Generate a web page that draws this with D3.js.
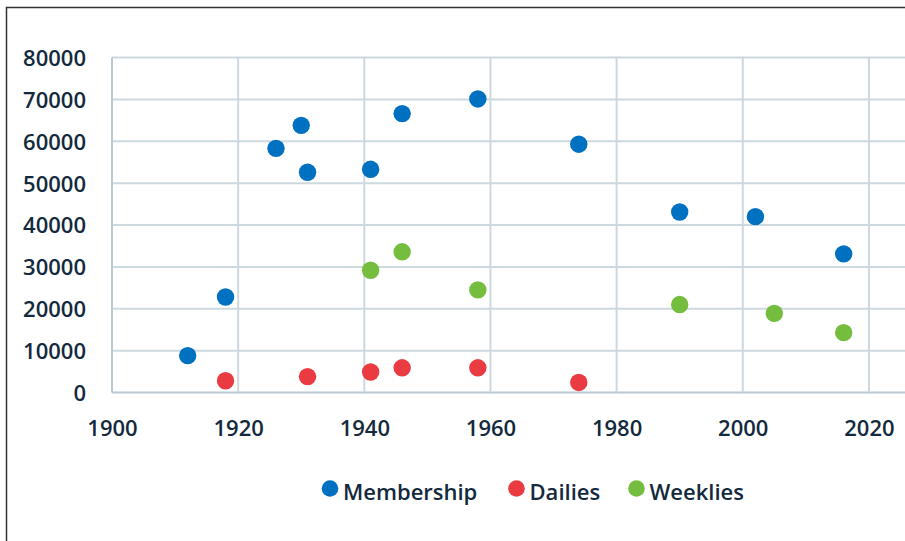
<!DOCTYPE html>
<html>
<head>
<meta charset="utf-8">
<style>
  body { margin: 0; background: #fff; }
  svg { display: block; }
  text { font-family: "Open Sans", sans-serif; fill: #13293d; font-weight: 600; }
</style>
<script src="https://cdnjs.cloudflare.com/ajax/libs/d3/7.8.5/d3.min.js"></script>
</head>
<body>
<svg id="chart" width="905" height="541"></svg>
<script>
// series: [year, count]
var membership = [[1912, 8800], [1918, 22800], [1926, 58300], [1930, 63800], [1931, 52600],
                  [1941, 53300], [1946, 66600], [1958, 70100], [1974, 59300], [1990, 43100],
                  [2002, 42000], [2016, 33100]];
var dailies = [[1918, 2800], [1931, 3800], [1941, 4900], [1946, 5900], [1958, 5900], [1974, 2400]];
var weeklies = [[1941, 29200], [1946, 33600], [1958, 24500], [1990, 21000], [2005, 18900], [2016, 14300]];

var seriesNames = ["Membership", "Dailies", "Weeklies"];
var seriesColors = ["#0070c0", "#ea3a42", "#75bd3e"];
var xTicks = [1900, 1920, 1940, 1960, 1980, 2000, 2020, 2030];
var yTicks = [0, 10000, 20000, 30000, 40000, 50000, 60000, 70000, 80000];

var svg = d3.select("#chart");

// outer frame (right side runs off the image)
svg.append("path")
  .attr("d", "M6.5,541 V7.5 H905")
  .attr("fill", "none")
  .attr("stroke", "#333")
  .attr("stroke-width", 1.5);

var x = d3.scaleLinear().domain([1900, 2030]).range([112, 932]);
var y = d3.scaleLinear().domain([0, 80000]).range([392.5, 57.5]);

// grid
svg.append("g").selectAll("line").data(yTicks).enter().append("line")
  .attr("x1", x(1900)).attr("x2", x(2030))
  .attr("y1", function (d) { return y(d); }).attr("y2", function (d) { return y(d); })
  .attr("stroke", function (d) { return d === 0 ? "#b9c8d2" : "#cdd8df"; })
  .attr("stroke-width", 2);

svg.append("g").selectAll("line").data(xTicks).enter().append("line")
  .attr("x1", function (d) { return x(d); }).attr("x2", function (d) { return x(d); })
  .attr("y1", y(80000)).attr("y2", y(0))
  .attr("stroke", function (d) { return d === 1900 ? "#b9c8d2" : "#cdd8df"; })
  .attr("stroke-width", 2);

// axis labels
var yAxis = d3.axisLeft(y).tickValues(yTicks).tickSize(0).tickPadding(0).tickFormat(d3.format("d"));
svg.append("g")
  .attr("transform", "translate(86,0)")
  .call(yAxis)
  .call(function (g) { g.select(".domain").remove(); })
  .selectAll("text")
  .attr("dy", "0.36em")
  .style("font-size", "22px")
  .style("font-family", "'Open Sans', sans-serif")
  .attr("fill", "#13293d");

var xAxis = d3.axisBottom(x).tickValues(xTicks.slice(0, 7)).tickSize(0).tickPadding(0).tickFormat(d3.format("d"));
svg.append("g")
  .attr("transform", "translate(0,420)")
  .call(xAxis)
  .call(function (g) { g.select(".domain").remove(); })
  .selectAll("text")
  .attr("dy", "0.71em")
  .style("font-size", "22px")
  .style("font-family", "'Open Sans', sans-serif")
  .attr("fill", "#13293d");

// points
var allSeries = [membership, dailies, weeklies];
allSeries.forEach(function (data, i) {
  svg.append("g").selectAll("circle").data(data).enter().append("circle")
    .attr("cx", function (d) { return x(d[0]); })
    .attr("cy", function (d) { return y(d[1]); })
    .attr("r", 8.7)
    .attr("fill", seriesColors[i]);
});

// legend
var legendX = [330, 516.5, 636.5];
var legend = svg.append("g").selectAll("g").data(seriesNames).enter().append("g")
  .attr("transform", function (d, i) { return "translate(" + legendX[i] + ",488.5)"; });
legend.append("circle").attr("r", 8.3).attr("fill", function (d, i) { return seriesColors[i]; });
legend.append("text")
  .attr("x", 13)
  .attr("y", 11)
  .style("font-size", "22px")
  .text(function (d) { return d; });
</script>
</body>
</html>
